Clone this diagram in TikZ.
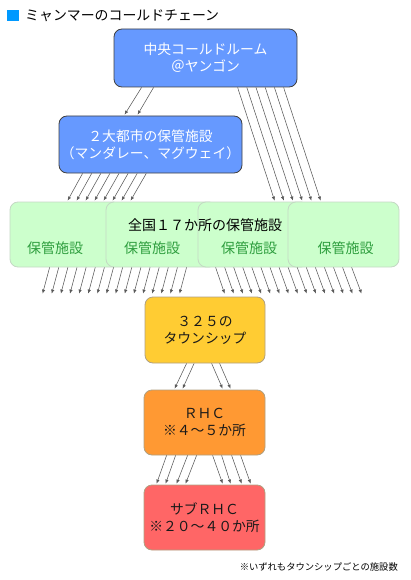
\documentclass[tikz,border=0pt]{standalone}
\usepackage{fontspec}
\setmainfont{Noto Sans CJK JP}
\usetikzlibrary{arrows.meta}

\definecolor{boxblue}{HTML}{6699FF}
\definecolor{boxgreen}{HTML}{CCFFCC}
\definecolor{linegreen}{HTML}{C4D8C4}
\definecolor{textgreen}{HTML}{2E9E3E}
\definecolor{boxyellow}{HTML}{FFCC33}
\definecolor{boxorange}{HTML}{FF9933}
\definecolor{boxred}{HTML}{FF6666}
\definecolor{linebrown}{HTML}{B0A080}
\definecolor{titleblue}{HTML}{0099FF}

\tikzset{
  box/.style={rectangle, rounded corners=8pt, inner sep=0pt, align=center,
    font=\fontsize{13.8}{17}\selectfont, line width=0.8pt},
  bluebox/.style={box, fill=boxblue, draw=black!75, text=white,
    minimum width=183pt, minimum height=58pt},
  greenbox/.style={box, fill=boxgreen, draw=linegreen,
    minimum width=111pt, minimum height=65pt},
  warmbox/.style={box, draw=linebrown, text=black!90,
    minimum width=121pt, minimum height=65pt},
  arr/.style={-{Latex[length=4pt,width=3.4pt]}, draw=black!65, line width=0.55pt},
}

\begin{document}
\begin{tikzpicture}[x=1pt,y=-1pt]
\useasboundingbox (0,0) rectangle (410,580);

\fill[titleblue] (7,10) rectangle (19,21);
\node[anchor=west, font=\fontsize{13.9}{16}\selectfont, inner sep=0pt] (title) at (25,15.5) {ミャンマーのコールドチェーン};

\node[bluebox] (cold) at (205.5,58) {中央コールドルーム\\＠ヤンゴン};
\node[bluebox, minimum height=57pt] (city) at (150.5,144.5) {２大都市の保管施設\\（マンダレー、マグウェイ）};

\node[greenbox] (g1) at (65.5,234.5) {};
\node[greenbox] (g2) at (161.5,234.5) {};
\node[greenbox] (g3) at (253.5,234.5) {};
\node[greenbox] (g4) at (343.5,234.5) {};
\node[font=\fontsize{14}{16}\selectfont] (all) at (205,225) {全国１７か所の保管施設};
\foreach \x [count=\n] in {55,152,249,345.5}
  \node[font=\fontsize{14}{16}\selectfont, text=textgreen] (s\n) at (\x,248) {保管施設};

\node[warmbox, fill=boxyellow, minimum width=120pt, minimum height=66pt] (town) at (205,330) {３２５の\\タウンシップ};
\node[warmbox, fill=boxorange] (rhc) at (204.5,422.5) {ＲＨＣ\\※４～５か所};
\node[warmbox, fill=boxred] (sub) at (204.5,517.5) {サブＲＨＣ\\※２０～４０か所};

\node[anchor=east, font=\fontsize{9.3}{11}\selectfont, inner sep=0pt] (note) at (398,567) {※いずれもタウンシップごとの施設数};

\foreach \i in {0,1}
  \draw[arr] ([xshift=28+12*\i]cold.south west) -- ([xshift=66+13*\i, yshift=1]city.north west);
\foreach \i in {0,...,5}
  \draw[arr] ([xshift=124+9.2*\i]cold.south west) -- ([xshift=77+9.2*\i, yshift=1]g3.north west);
\foreach \i in {0,...,7}
  \draw[arr] ([xshift=24+9.1*\i]city.south west) -- ([xshift=58+9*\i, yshift=1]g1.north west);
\foreach \i in {0,...,15}
  \draw[arr] ([xshift=40+9.13*\i]g1.south west) -- ([xshift=-102+9.13*\i, yshift=3]town.north west);
\foreach \i in {0,...,15}
  \draw[arr] ([xshift=18+9.07*\i]g3.south west) -- ([xshift=80+9.13*\i, yshift=3]town.north west);
\foreach \a/\b in {42/31, 49.5/39, 67/79, 75/87}
  \draw[arr] ([xshift=\a]town.south west) -- ([xshift=\b, yshift=1]rhc.north west);
\foreach \a/\b in {23/13, 32/22, 44/33, 53/42, 69/79, 78/87, 88/98, 97/107}
  \draw[arr] ([xshift=\a]rhc.south west) -- ([xshift=\b, yshift=1]sub.north west);
\end{tikzpicture}
\end{document}
